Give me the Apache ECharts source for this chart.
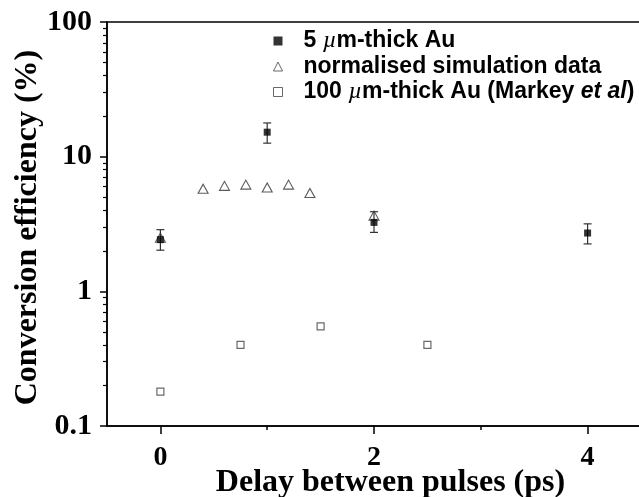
<!DOCTYPE html>
<html>
<head>
<meta charset="utf-8">
<script src="https://cdn.jsdelivr.net/npm/echarts@6/dist/echarts.min.js"></script>
<style>
  html, body { margin: 0; padding: 0; background: #fff; }
  #chart { width: 639px; height: 497px; }
</style>
</head>
<body>
<div id="chart"></div>
<script>
// 5 um-thick Au (measured, with error bars)
const delay5um = [0, 1, 2, 4]
const eff5um = [2.42, 15.2, 3.25, 2.71]
const errLow5um = [2.02, 12.6, 2.74, 2.25]
const errHigh5um = [2.87, 17.8, 3.9, 3.17]

// normalised simulation data
const delaySim = [0, 0.4, 0.6, 0.8, 1.0, 1.2, 1.4, 2]
const effSim = [2.5, 5.78, 6.07, 6.2, 5.91, 6.2, 5.37, 3.65]

// 100 um-thick Au (Markey et al)
const delay100um = [0, 0.75, 1.5, 2.5]
const eff100um = [0.18, 0.40, 0.55, 0.40]

// tick positions
const xMajorTicks = [0, 2, 4]
const xMinorTicks = [1, 3]
const yMajorTicks = [0.1, 1, 10, 100]
const yMinorTicks = [0.2, 0.3, 0.4, 0.5, 0.6, 0.7, 0.8, 0.9,
  2, 3, 4, 5, 6, 7, 8, 9,
  20, 30, 40, 50, 60, 70, 80, 90]

const nameA = '5 µm-thick Au'
const nameB = 'normalised simulation data'
const nameC = '100 µm-thick Au (Markey et al)'

const chart = echarts.init(document.getElementById('chart'))

const serif = "'Liberation Serif', 'Times New Roman', serif"
const sans = "'Liberation Sans', Arial, sans-serif"

const legendText = {
  [nameA]: '{b|5 }{i|µ}{b|m-thick Au}',
  [nameB]: '{b|normalised simulation data}',
  [nameC]: '{b|100 }{i|µ}{b|m-thick Au (Markey }{bi|et al}{b|)}'
}

const option = {
  backgroundColor: '#fff',
  animation: false,
  grid: {
    left: 107,
    top: 22,
    right: -2,
    bottom: 71,
    outerBoundsMode: 'none',
    containLabel: false,
    show: true,
    borderColor: '#000',
    borderWidth: 1.5,
    backgroundColor: 'transparent'
  },
  legend: {
    orient: 'vertical',
    left: 268,
    top: 24,
    itemGap: 2,
    itemWidth: 9,
    itemHeight: 9,
    data: [
      { name: nameA, icon: 'rect', itemStyle: { color: '#000' } },
      { name: nameB, icon: 'triangle', itemStyle: { color: 'transparent', borderColor: '#444', borderWidth: 1 } },
      { name: nameC, icon: 'rect', itemStyle: { color: '#fff', borderColor: '#444', borderWidth: 1 } }
    ],
    formatter: (name) => legendText[name],
    textStyle: {
      padding: [0, 0, 0, 16],
      rich: {
        b: { fontFamily: sans, fontWeight: 'bold', fontSize: 23, lineHeight: 18, color: '#000' },
        i: { fontFamily: serif, fontStyle: 'italic', fontSize: 24, lineHeight: 18, color: '#000' },
        bi: { fontFamily: sans, fontWeight: 'bold', fontStyle: 'italic', fontSize: 23, lineHeight: 18, color: '#000' }
      }
    }
  },
  xAxis: [
    {
      type: 'value',
      min: -0.5,
      max: 4.5,
      position: 'bottom',
      name: 'Delay between pulses (ps)',
      nameLocation: 'middle',
      nameMoveOverlap: false,
      nameGap: 41,
      nameTextStyle: {
        fontFamily: serif, fontWeight: 'bold', fontSize: 32, color: '#000',
        padding: [0, 0, 0, 33]
      },
      axisLine: { onZero: false, lineStyle: { color: '#000', width: 1.5 } },
      axisTick: { customValues: xMajorTicks, length: 8, lineStyle: { color: '#000', width: 1.5 } },
      axisLabel: {
        customValues: xMajorTicks,
        margin: 18,
        fontFamily: serif, fontWeight: 'bold', fontSize: 28, color: '#000'
      },
      splitLine: { show: false }
    },
    {
      // minor ticks at 1 and 3
      type: 'value',
      min: -0.5,
      max: 4.5,
      position: 'bottom',
      axisLine: { show: false, onZero: false },
      axisTick: { customValues: xMinorTicks, length: 4, lineStyle: { color: '#000', width: 1.5 } },
      axisLabel: { show: false },
      splitLine: { show: false }
    }
  ],
  yAxis: [
    {
      type: 'log',
      logBase: 10,
      min: 0.1,
      max: 100,
      position: 'left',
      name: 'Conversion efficiency (%)',
      nameLocation: 'middle',
      nameMoveOverlap: false,
      nameGap: 63,
      nameTextStyle: {
        fontFamily: serif, fontWeight: 'bold', fontSize: 32, color: '#000',
        padding: [0, 7, 0, 0]
      },
      axisLine: { onZero: false, lineStyle: { color: '#000', width: 1.5 } },
      axisTick: { customValues: yMajorTicks, length: 7, lineStyle: { color: '#000', width: 1.5 } },
      axisLabel: {
        customValues: yMajorTicks,
        margin: 15,
        fontFamily: serif, fontWeight: 'bold', fontSize: 30, color: '#000'
      },
      splitLine: { show: false }
    },
    {
      // minor ticks 2..9 of each decade
      type: 'log',
      logBase: 10,
      min: 0.1,
      max: 100,
      position: 'left',
      axisLine: { show: false, onZero: false },
      axisTick: { customValues: yMinorTicks, length: 4, lineStyle: { color: '#000', width: 1.2 } },
      axisLabel: { show: false },
      splitLine: { show: false }
    }
  ],
  series: [
    {
      name: nameB,
      type: 'scatter',
      symbol: 'triangle',
      symbolSize: [10, 9],
      data: delaySim.map((x, i) => [x, effSim[i]]),
      itemStyle: { color: 'transparent', borderColor: '#333', borderWidth: 1.1 },
      z: 3
    },
    {
      name: nameC,
      type: 'scatter',
      symbol: 'rect',
      symbolSize: 7,
      data: delay100um.map((x, i) => [x, eff100um[i]]),
      itemStyle: { color: '#fff', borderColor: '#444', borderWidth: 1.2 },
      z: 3
    },
    {
      name: 'errors',
      type: 'custom',
      data: delay5um.map((x, i) => [x, errLow5um[i], errHigh5um[i]]),
      renderItem: (params, api) => {
        const lo = api.coord([api.value(0), api.value(1)])
        const hi = api.coord([api.value(0), api.value(2)])
        const half = 4
        const style = { stroke: '#333', lineWidth: 1.2 }
        return {
          type: 'group',
          children: [
            { type: 'line', shape: { x1: lo[0], y1: lo[1], x2: hi[0], y2: hi[1] }, style },
            { type: 'line', shape: { x1: lo[0] - half, y1: lo[1], x2: lo[0] + half, y2: lo[1] }, style },
            { type: 'line', shape: { x1: hi[0] - half, y1: hi[1], x2: hi[0] + half, y2: hi[1] }, style }
          ]
        }
      },
      z: 2
    },
    {
      name: nameA,
      type: 'scatter',
      symbol: 'rect',
      symbolSize: 7,
      data: delay5um.map((x, i) => [x, eff5um[i]]),
      itemStyle: { color: '#000' },
      z: 4
    }
  ]
}

chart.setOption(option)
</script>
</body>
</html>
